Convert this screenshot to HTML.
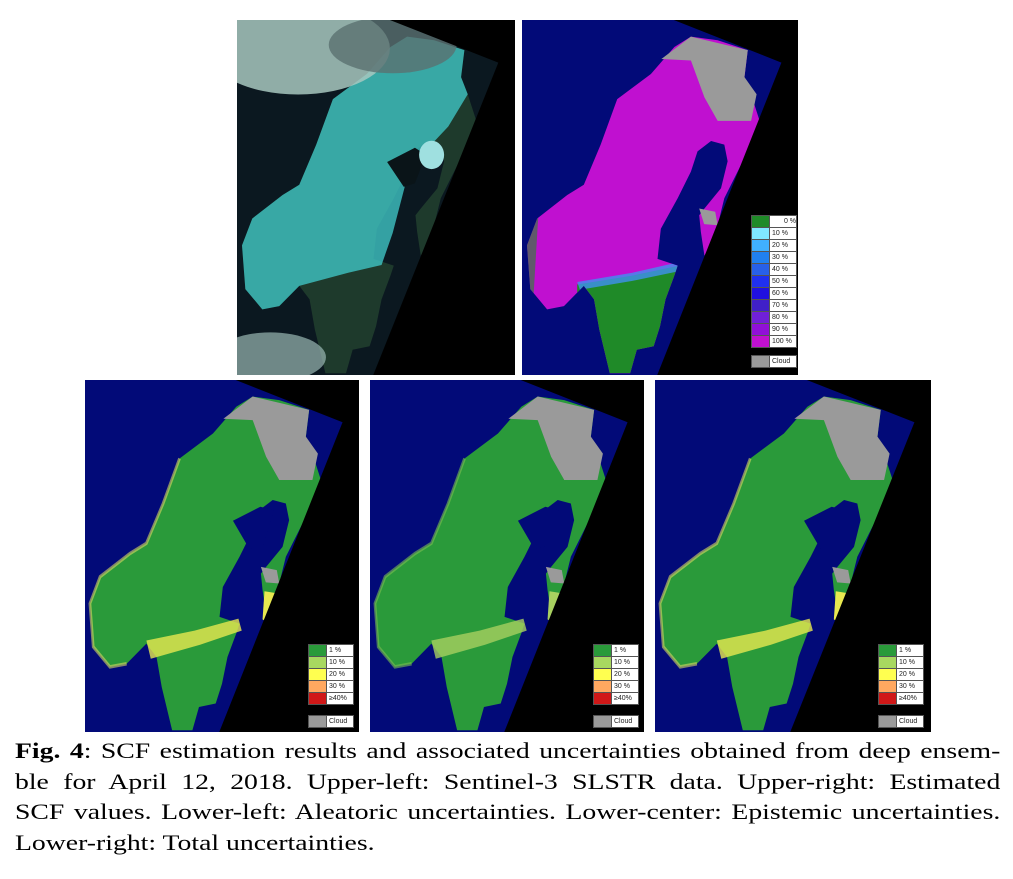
<!DOCTYPE html>
<html><head><meta charset="utf-8">
<style>
body{margin:0;width:1013px;height:879px;background:#fff;position:relative;overflow:hidden;font-family:"Liberation Serif",serif}
.panel{position:absolute;overflow:hidden}
.panel svg{position:absolute;left:0;top:0;width:100%;height:100%}
.leg{position:absolute;font-family:"Liberation Sans",sans-serif;font-size:7px;color:#222}
.row{display:flex;height:11px;border:1px solid #555;border-top:none;background:#fff}
.row:first-child{border-top:1px solid #555}
.sw{width:17px;height:11px;border-right:1px solid #555}
.lb{flex:1;line-height:11px;padding-left:2px}
.cap{position:absolute;left:15px;width:782px;font-size:22px;line-height:30.5px;color:#000;transform:scaleX(1.26);transform-origin:0 0}
.j{text-align:justify;text-align-last:justify;white-space:nowrap;height:30.5px}
</style></head><body>
<div id="root"></div>
<div class="cap" style="top:736px">
<div class="j"><b>Fig. 4</b>: SCF estimation results and associated uncertainties obtained from deep ensem-</div>
<div class="j">ble for April 12, 2018. Upper-left: Sentinel-3 SLSTR data. Upper-right: Estimated</div>
<div class="j">SCF values. Lower-left: Aleatoric uncertainties. Lower-center: Epistemic uncertainties.</div>
<div>Lower-right: Total uncertainties.</div>
</div>
<script>
const LAND="467,152 345,223 285,351 224,464 164,493 55,559 18,635 30,758 91,815 152,806 224,749 261,787 280,872 318,995 392,995 416,929 477,919 500,863 520,787 552,720 564,692 491,673 503,588 564,502 612,427 636,370 685,341 733,351 745,398 721,474 661,531 642,550 648,597 661,664 685,635 709,578 733,502 818,370 861,284 830,209 806,161 818,85 709,57 612,47 552,76";
const BLACK="550,0 1000,0 1000,1000 490,1000 940,120";
const CLOUD="505,110 612,47 818,85 806,161 850,209 830,284 709,284 661,218 612,114";
const CLOUD2="642,531 700,540 709,578 660,575";
const BAND="224,740 400,712 560,678 572,712 420,752 240,792";
const FINBAND="655,600 695,605 668,690 648,680";
const COAST="345,223 285,351 224,464 164,493 55,559 18,635 30,758 91,815 152,806";
const root=document.getElementById('root');
function panel(name,x,y,w,h,inner,legend){
  const d=document.createElement('div');
  d.className='panel';
  
  
  d.style.cssText=`left:${x}px;top:${y}px;width:${w}px;height:${h}px`;
  d.innerHTML=`<svg viewBox="0 0 1000 1000" preserveAspectRatio="none">${inner}<polygon points="${BLACK}" fill="#000"/></svg>`+(legend||'');
  root.appendChild(d);
}
function legendHTML(items,lx,ly,cy){
  let s=`<div class="leg" style="left:${lx}px;top:${ly}px;width:46px">`;
  for(const [c,t,al] of items){s+=`<div class="row"><div class="sw" style="background:${c}"></div><div class="lb" style="text-align:${al||'left'}">${t}</div></div>`;}
  s+=`</div><div class="leg" style="left:${lx}px;top:${cy}px;width:46px"><div class="row"><div class="sw" style="background:#9a9a9a"></div><div class="lb">Cloud</div></div></div>`;
  return s;
}
const NAVY="#020a78";
panel('sentinel3-rgb-image',237,20,278,355,
 `<rect width="1000" height="1000" fill="#0b1820"/>
  <polygon points="${LAND}" fill="#1e3a2c"/>
  <polygon points="467,152 345,223 285,351 224,464 164,493 55,559 18,635 30,758 91,815 152,806 224,749 400,712 520,690 560,600 620,420 700,350 760,300 830,209 806,161 818,85 709,57 612,47 552,76" fill="#3ec4c4" opacity="0.8"/>
  <polygon points="540,400 640,360 680,380 640,460 600,470" fill="#0a1418"/>
  <ellipse cx="700" cy="380" rx="45" ry="40" fill="#9fe0e0"/>
  <ellipse cx="220" cy="80" rx="330" ry="130" fill="#a8c8c0" opacity="0.85"/>
  <ellipse cx="560" cy="70" rx="230" ry="80" fill="#5a7070" opacity="0.8"/>
  <ellipse cx="120" cy="950" rx="200" ry="70" fill="#9ab8b4" opacity="0.7"/>`,'');
panel('estimated-scf-map',522,20,276,355,
 `<rect width="1000" height="1000" fill="${NAVY}"/>
  <clipPath id="lc"><polygon points="${LAND}"/></clipPath>
  <polygon points="${LAND}" fill="#c010d0"/>
  <g clip-path="url(#lc)"><polygon points="200,745 400,720 580,690 600,1000 200,1000" fill="#1f8a28"/>
  <polygon points="200,738 400,712 580,680 585,705 400,735 210,760" fill="#4090f0" opacity="0.8"/>
  <polygon points="0,560 60,540 40,800 90,815 0,820" fill="#1f8a28" opacity="0.6"/></g>
  <polygon points="${CLOUD}" fill="#9a9a9a"/><polygon points="${CLOUD2}" fill="#9a9a9a"/>`,
 legendHTML([["#1f8a28","0 %","right"],["#80e8ff","10 %"],["#40b0ff","20 %"],["#2080f0","30 %"],["#2860e8","40 %"],["#2030f0","50 %"],["#2010e0","60 %"],["#4020c8","70 %"],["#7020d8","80 %"],["#9010d8","90 %"],["#c010d0","100 %"]],229,195,335));
const UL=[["#2a9a3a","1 %"],["#a8d860","10 %"],["#ffff50","20 %"],["#ffa860","30 %"],["#d01818","≥40%"]];
function uncPanel(name,x,w,band,coast){
  panel(name,x,380,w,352,
   `<rect width="1000" height="1000" fill="${NAVY}"/>
    <polygon points="${LAND}" fill="#2a9a3a"/>
    <polyline points="${COAST}" fill="none" stroke="${coast}" stroke-width="10" opacity="0.6"/>
    <polygon points="${BAND}" fill="${band}" opacity="0.8"/>
    <polygon points="${FINBAND}" fill="${band}"/>
    <polygon points="540,400 640,360 690,370 650,470 600,480" fill="${NAVY}"/>
    <polygon points="${CLOUD}" fill="#9a9a9a"/><polygon points="${CLOUD2}" fill="#9a9a9a"/>`,
   legendHTML(UL,223,264,335));
}
uncPanel('aleatoric-uncertainty-map',85,274,'#e8e850','#d8d860');
uncPanel('epistemic-uncertainty-map',370,274,'#a8d060','#7cc050');
uncPanel('total-uncertainty-map',655,276,'#e8e850','#d8d860');
</script>
</body></html>
